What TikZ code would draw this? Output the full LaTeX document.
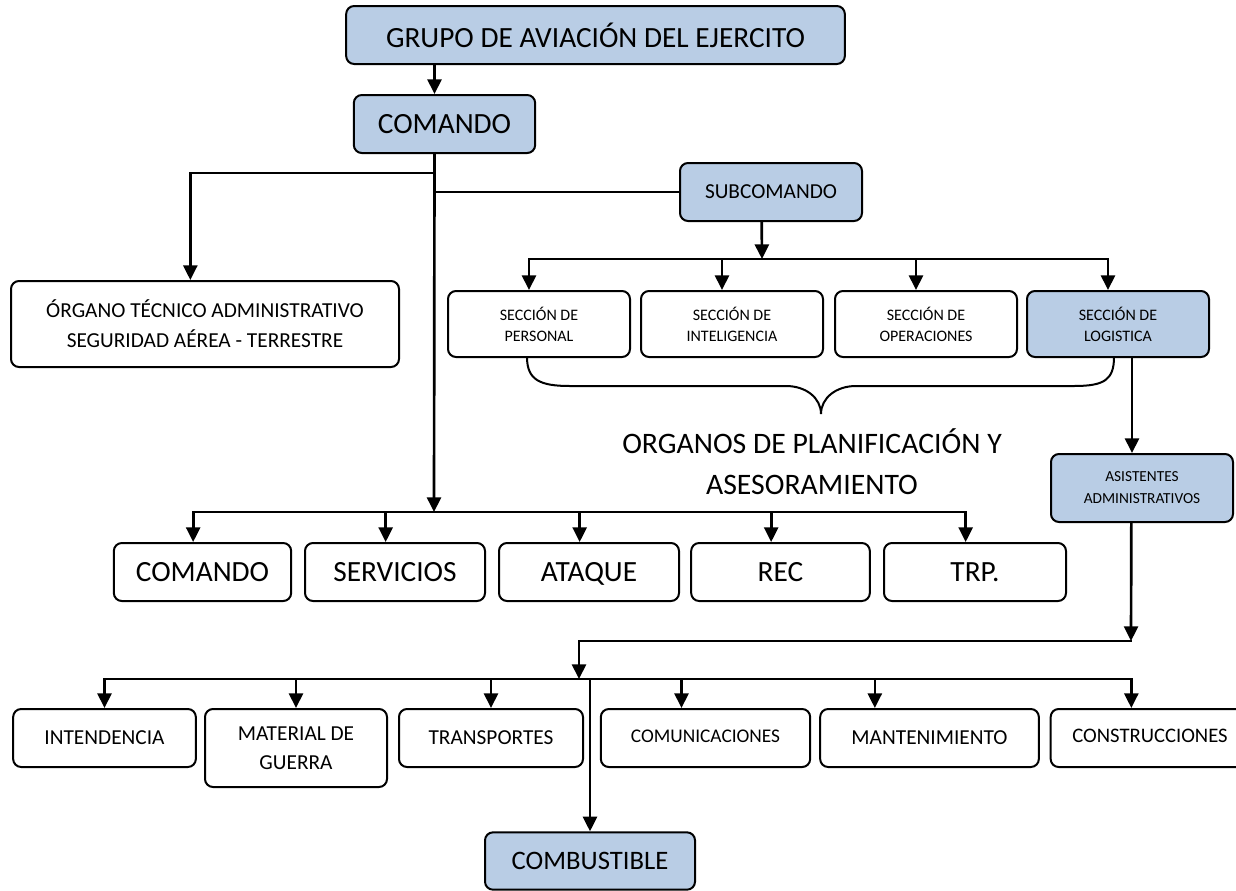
\documentclass[tikz,border=0pt]{standalone}
\usepackage{fontspec}
\setmainfont{Carlito}
\usepackage{tikz}
\usetikzlibrary{calc, arrows.meta}
\definecolor{celeste}{RGB}{185,205,229}
\tikzset{>={Triangle[length=11pt,width=10.5pt]}}
\tikzset{
  caja/.style={draw, line width=1.5pt, rounded corners=6pt, inner sep=0pt, align=center},
  cajaazul/.style={caja, fill=celeste},
  linea/.style={line width=2pt, line cap=rect},
}
\newcommand{\tam}[2]{\fontsize{#1}{#2}\selectfont}

\begin{document}
\begin{tikzpicture}[x=0.75pt, y=-0.75pt]
    \useasboundingbox (0,0) rectangle (1236,890);

    % mando
    \node[cajaazul, minimum width=374pt, minimum height=43.5pt, font=\tam{22}{26}] (grupo) at (595.5,35) {GRUPO DE AVIACIÓN DEL EJERCITO};
    \node[cajaazul, minimum width=136pt, minimum height=43.5pt, font=\tam{22}{26}] (comando) at (444.5,124) {COMANDO};
    \node[cajaazul, minimum width=136.5pt, minimum height=43.5pt, font=\tam{16}{19}] (subcomando) at (771,192) {SUBCOMANDO};
    \node[caja, minimum width=291pt, minimum height=64.5pt, font=\tam{16}{22.5}] (organo) at (205,324) {ÓRGANO TÉCNICO ADMINISTRATIVO\\SEGURIDAD AÉREA - TERRESTRE};

    % secciones
    \node[caja, minimum width=136.5pt, minimum height=49.5pt, font=\tam{12}{15.75}] (personal) at (539,324) {SECCIÓN DE\\PERSONAL};
    \node[caja, minimum width=136.5pt, minimum height=49.5pt, font=\tam{12}{15.75}] (inteligencia) at (732,324) {SECCIÓN DE\\INTELIGENCIA};
    \node[caja, minimum width=136.5pt, minimum height=49.5pt, font=\tam{12}{15.75}] (operaciones) at (926,324) {SECCIÓN DE\\OPERACIONES};
    \node[cajaazul, minimum width=136.5pt, minimum height=49.5pt, font=\tam{12}{15.75}] (logistica) at (1118,324) {SECCIÓN DE\\LOGISTICA};
    \node[cajaazul, minimum width=136.5pt, minimum height=51pt, font=\tam{11.5}{16.5}] (asistentes) at (1142,488) {ASISTENTES\\ADMINISTRATIVOS};

    \node[font=\tam{22.3}{31}, align=center] (organos) at (812,462) {ORGANOS DE PLANIFICACIÓN Y\\ASESORAMIENTO};

    % unidades
    \node[caja, minimum width=133pt, minimum height=43.5pt, font=\tam{22}{26}] (comandob) at (202.5,572) {COMANDO};
    \node[caja, minimum width=135pt, minimum height=43.5pt, font=\tam{22}{26}] (servicios) at (395,572) {SERVICIOS};
    \node[caja, minimum width=135pt, minimum height=43.5pt, font=\tam{22}{26}, text depth=0pt] (ataque) at (589,572) {ATAQUE};
    \node[caja, minimum width=134pt, minimum height=43.5pt, font=\tam{22}{26}] (rec) at (780.5,572) {REC};
    \node[caja, minimum width=136.5pt, minimum height=43.5pt, font=\tam{22}{26}] (trp) at (975,572) {TRP.};

    % servicios logisticos
    \node[caja, minimum width=137pt, minimum height=43.5pt, font=\tam{16}{19}] (intendencia) at (104.5,738) {INTENDENCIA};
    \node[caja, minimum width=136.5pt, minimum height=58.5pt, font=\tam{16}{22}] (material) at (296,748) {MATERIAL DE\\GUERRA};
    \node[caja, minimum width=138pt, minimum height=43.5pt, font=\tam{16}{19}] (transportes) at (491,738) {TRANSPORTES};
    \node[caja, minimum width=157pt, minimum height=43.5pt, font=\tam{14.5}{17}, text depth=3pt] (comunicaciones) at (705.5,738) {COMUNICACIONES};
    \node[caja, minimum width=164pt, minimum height=43.5pt, font=\tam{16}{19}] (mantenimiento) at (929.5,738) {MANTENIMIENTO};
    \node[caja, minimum width=149pt, minimum height=43.5pt, font=\tam{15.5}{18}, text depth=3pt] (construcciones) at (1150,738) {CONSTRUCCIONES};
    \node[cajaazul, minimum width=157.5pt, minimum height=43pt, font=\tam{20}{23}] (combustible) at (590,861) {COMBUSTIBLE};

    % conectores
    \coordinate (tronco) at (434,512);
    \coordinate (rama1) at (434,173);
    \coordinate (rama2) at (434,192);
    \coordinate (bus1) at (762,259);
    \coordinate (bus2) at (1131,641);
    \coordinate (bus3) at (579,679);

    \draw[linea, ->] ([xshift=-7.5pt]comando.north |- grupo.south) -- ([xshift=-7.5pt]comando.north);
    \draw[linea, ->] ([xshift=-7.5pt]comando.south) -- (tronco);
    \draw[linea, ->] (rama1) -| ([xshift=-11pt]organo.north);
    \draw[linea] (rama2) -- (subcomando);

    \draw[linea, ->] ([xshift=-7pt]subcomando.south) -- (bus1);
    \draw[linea] ([xshift=-7.5pt]personal.north |- bus1) -- ([xshift=-7.5pt]logistica.north |- bus1);
    \foreach \n in {personal, inteligencia, operaciones, logistica}
      \draw[linea, ->] ([xshift=-7.5pt]\n.north |- bus1) -- ([xshift=-7.5pt]\n.north);

    \draw[linea] ([xshift=-7pt]comandob.north |- tronco) -- ([xshift=-7pt]trp.north |- tronco);
    \foreach \n in {comandob, servicios, ataque, rec, trp}
      \draw[linea, ->] ([xshift=-7pt]\n.north |- tronco) -- ([xshift=-7pt]\n.north);

    \draw[linea, ->] ([xshift=-7.5pt]asistentes.north |- logistica.south) -- ([xshift=-7.5pt]asistentes.north);
    \draw[linea, ->] ([xshift=-8pt]asistentes.south) -- (bus2);
    \draw[linea, ->] (bus2) -| (bus3);

    \draw[linea] (intendencia.north |- bus3) -- ([xshift=-14pt]construcciones.north |- bus3);
    \foreach \n/\d in {intendencia/0, material/0, transportes/0, comunicaciones/-18, mantenimiento/-41, construcciones/-14}
      \draw[linea, ->] ([xshift=\d pt]\n.north |- bus3) -- ([xshift=\d pt]\n.north);
    \draw[linea, ->] (combustible.north |- bus3) -- (combustible.north);

    % llave
    \draw[line width=1.5pt] (527,357) .. controls (527,380) and (540,386) .. (570,386) -- (786,386)
      .. controls (806,386) and (821,398) .. (821,414) .. controls (821,398) and (836,386) .. (856,386)
      -- (1074,386) .. controls (1104,386) and (1114,380) .. (1114,357);
\end{tikzpicture}
\end{document}
